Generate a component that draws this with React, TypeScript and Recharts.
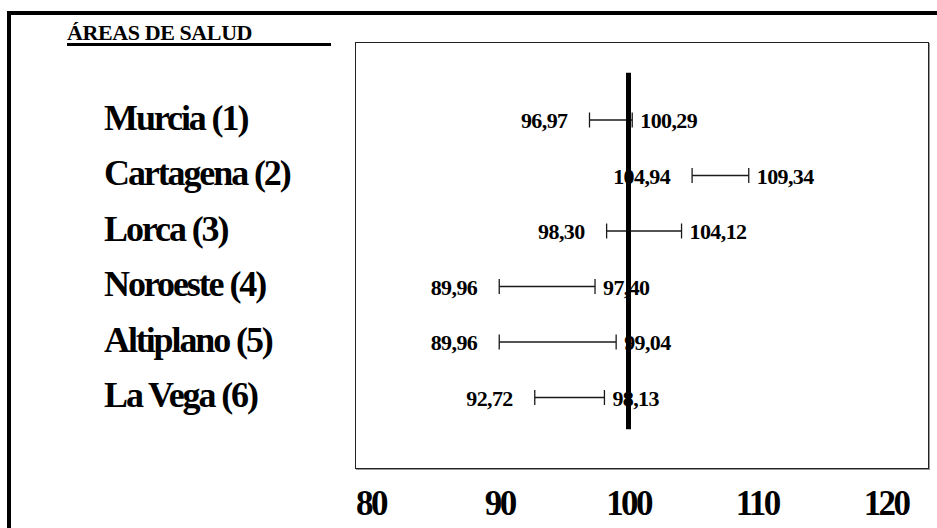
import React from 'react';
import { ComposedChart, Bar, XAxis, YAxis, ReferenceLine, LabelList } from 'recharts';

const areas = ['Murcia (1)', 'Cartagena (2)', 'Lorca (3)', 'Noroeste (4)', 'Altiplano (5)', 'La Vega (6)'];
const lower = [96.97, 104.94, 98.3, 89.96, 89.96, 92.72];
const upper = [100.29, 109.34, 104.12, 97.4, 99.04, 98.13];
const xTicks = [80, 90, 100, 110, 120];
const referenceValue = 100;
const title = 'ÁREAS DE SALUD';

const data = areas.map((name, i) => ({ name, range: [lower[i], upper[i]], lo: lower[i], hi: upper[i] }));

const SERIF = '"Liberation Serif", "Times New Roman", serif';
const fmt = (v: number) => v.toFixed(2).replace('.', ',');

const IntervalShape = (props: any) => {
  const { x, y, width, height } = props;
  const cy = y + height / 2;
  const x1 = x;
  const x2 = x + width;
  return (
    <g>
      <line x1={x1} x2={x2} y1={cy} y2={cy} stroke="#1a1a1a" strokeWidth={1.6} />
      <line x1={x1} x2={x1} y1={cy - 7.5} y2={cy + 7.5} stroke="#1a1a1a" strokeWidth={1.3} />
      <line x1={x2} x2={x2} y1={cy - 7.5} y2={cy + 7.5} stroke="#1a1a1a" strokeWidth={1.3} />
    </g>
  );
};

const getBox = (props: any) => {
  const vb = props.viewBox || {};
  const x = props.x ?? vb.x;
  const y = props.y ?? vb.y;
  const width = props.width ?? vb.width;
  const height = props.height ?? vb.height;
  return { x, y, width, height };
};

const LeftLabel = (props: any) => {
  const { x, y, height } = getBox(props);
  return (
    <text x={x - 22} y={y + height / 2} dy={8} textAnchor="end" fontFamily={SERIF} fontWeight="bold" fontSize={22} letterSpacing={-0.6} fill="#000">
      {fmt(Number(props.value))}
    </text>
  );
};

const RightLabel = (props: any) => {
  const { x, y, width, height } = getBox(props);
  return (
    <text x={x + width + 8} y={y + height / 2} dy={8} textAnchor="start" fontFamily={SERIF} fontWeight="bold" fontSize={22} letterSpacing={-0.6} fill="#000">
      {fmt(Number(props.value))}
    </text>
  );
};

const RowTick = (props: any) => {
  const { x, y, payload } = props;
  return (
    <text x={x - 251} y={y} dy={10} textAnchor="start" fontFamily={SERIF} fontWeight="bold" fontSize={36} letterSpacing={-2.1} fill="#000">
      {payload.value}
    </text>
  );
};

const XTick = (props: any) => {
  const { x, y, payload } = props;
  return (
    <text x={x} y={y} dy={47} textAnchor="middle" fontFamily={SERIF} fontWeight="bold" fontSize={35} letterSpacing={-2.6} fill="#000">
      {payload.value}
    </text>
  );
};

const VLine = (props: any) => {
  const { x1, y1, y2 } = props;
  const top = Math.min(y1, y2) - 47;
  const bottom = Math.max(y1, y2) + 32;
  return <line x1={x1} x2={x1} y1={top} y2={bottom} stroke="#000" strokeWidth={5} />;
};

export default function App() {
  return (
    <div style={{ position: 'absolute', left: 0, top: 0, width: 937, height: 528, background: '#fff', overflow: 'hidden' }}>
      <div style={{ position: 'absolute', left: 7, top: 11, width: 940, height: 530, borderLeft: '4px solid #000', borderTop: '4px solid #000' }} />
      <div style={{ position: 'absolute', left: 355, top: 42, width: 572, height: 425, border: '1px solid #222', boxShadow: '1px 1px 0 #999' }} />
      <div style={{ position: 'absolute', left: 67, top: 21, fontFamily: SERIF, fontWeight: 'bold', fontSize: 22, letterSpacing: -0.4, lineHeight: '24px', whiteSpace: 'nowrap' }}>
        {title}
      </div>
      <div style={{ position: 'absolute', left: 67, top: 43, width: 264, height: 3, background: '#000' }} />
      <div style={{ position: 'absolute', left: 0, top: 0 }}>
        <ComposedChart width={937} height={528} data={data} layout="vertical" margin={{ top: 42, right: 9, bottom: 10, left: 0 }}>
          <XAxis
            type="number"
            domain={[78.757, 123.262]}
            ticks={xTicks}
            allowDataOverflow
            axisLine={false}
            tickLine={false}
            tickSize={0}
            tickMargin={0}
            height={50}
            interval={0}
            tick={<XTick />}
          />
          <YAxis
            type="category"
            dataKey="name"
            width={355}
            padding={{ top: 50, bottom: 43 }}
            axisLine={false}
            tickLine={false}
            tickSize={0}
            tickMargin={0}
            interval={0}
            tick={<RowTick />}
          />
          <Bar dataKey="range" barSize={16} shape={<IntervalShape />} isAnimationActive={false}>
            <LabelList dataKey="lo" content={<LeftLabel />} />
            <LabelList dataKey="hi" content={<RightLabel />} />
          </Bar>
          <ReferenceLine
            segment={[{ x: referenceValue, y: areas[0] }, { x: referenceValue, y: areas[areas.length - 1] }]}
            position="middle"
            ifOverflow="visible"
            shape={VLine}
          />
        </ComposedChart>
      </div>
    </div>
  );
}
